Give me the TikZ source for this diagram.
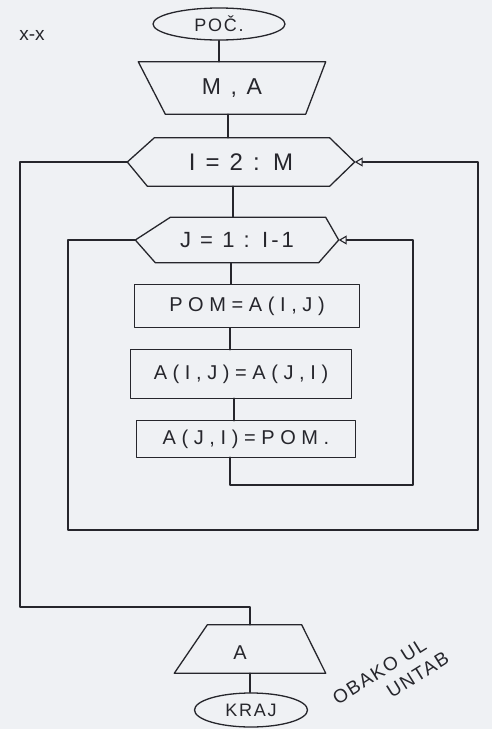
\documentclass[tikz,border=0pt]{standalone}
\usepackage{fontspec}
\setmainfont{Liberation Sans}
\usetikzlibrary{shapes.geometric,arrows.meta}
\definecolor{paper}{RGB}{239,241,244}
\definecolor{ink}{RGB}{38,38,44}
\tikzset{
  x=1pt,y=-1pt,
  ink/.style={draw=ink,line width=1.3pt,line join=round,line cap=round},
  flow/.style={ink},
  back/.style={ink,-{Triangle[open,length=8pt,width=9pt,line width=1.1pt]}},
  box/.style={inner sep=0pt,text=ink},
  lbl/.style={font=\fontsize{23}{23}\selectfont\addfontfeature{LetterSpace=14}},
  small/.style={font=\fontsize{20}{20}\selectfont\addfontfeature{LetterSpace=28}},
  term/.style={ellipse,ink,box,font=\fontsize{18}{18}\selectfont\addfontfeature{LetterSpace=10}},
}
\begin{document}
\begin{tikzpicture}
\fill[paper] (0,0) rectangle (492,729);
\useasboundingbox (0,0) rectangle (492,729);

% mark top-left
\node[text=ink,font=\fontsize{19}{19}\selectfont] (mark) at (32,35) {x-x};

% start
\node[term,minimum width=132,minimum height=32] (poc) at (219,24) {POČ.};

% input M,A
\node[box,lbl,minimum width=187,minimum height=52] (ma) at (232,88) {M , A};
\draw[ink] (ma.north west) -- (ma.north east) -- ([xshift=-20]ma.south east) -- ([xshift=27]ma.south west) -- cycle;

% loop I
\node[box,lbl,font=\fontsize{24}{24}\selectfont\addfontfeature{LetterSpace=14},minimum width=227,minimum height=48] (ihex) at (241,162) {I = 2 : M};
\draw[ink] (ihex.west) -- ([xshift=27]ihex.north west) -- ([xshift=-25]ihex.north east) -- (ihex.east) -- ([xshift=-25]ihex.south east) -- ([xshift=20]ihex.south west) -- cycle;

% loop J
\node[box,lbl,font=\fontsize{22}{22}\selectfont\addfontfeature{LetterSpace=14},minimum width=203,minimum height=45] (jhex) at (237,240) {J = 1 : I-1};
\draw[ink] (jhex.west) -- ([xshift=35]jhex.north west) -- ([xshift=-13]jhex.north east) -- (jhex.east) -- ([xshift=-20]jhex.south east) -- ([xshift=20]jhex.south west) -- cycle;

% body
\node[box,small,minimum width=225,minimum height=43] (b1) at (247,306) {POM=A(I,J)};
\draw[ink] (b1.south west) rectangle (b1.north east);
\node[box,small,minimum width=221,minimum height=48] (b2) at (241,374) {A(I,J)=A(J,I)};
\draw[ink] (b2.south west) rectangle (b2.north east);
\node[box,small,minimum width=218,minimum height=36] (b3) at (246,439) {A(J,I)=POM.};
\draw[ink] (b3.south west) rectangle (b3.north east);

% output A
\node[box,minimum width=151,minimum height=48] (outA) at (250,649) {};
\node[text=ink,font=\fontsize{20}{20}\selectfont,inner sep=0pt] (outAtxt) at (240,653) {A};
\draw[ink] ([xshift=33]outA.north west) -- ([xshift=-24]outA.north east) -- (outA.south east) -- (outA.south west) -- cycle;

% end
\node[term,minimum width=113,minimum height=34] (kraj) at (251,710) {KRAJ};

% coordinates for loop lines
\coordinate (jL) at (68,240);
\coordinate (jLb) at (68,530);
\coordinate (iRb) at (478,530);
\coordinate (iR) at (478,162);
\coordinate (jB) at (413,485);
\coordinate (jR) at (413,240);
\coordinate (iL) at (20,162);
\coordinate (iLb) at (20,607);
\coordinate (oT) at (250,607);

% straight connectors
\draw[flow] (poc.south) -- (poc.south |- ma.north);
\draw[flow] ([xshift=-4]ma.south) -- ([xshift=-4]ma.south |- ihex.north);
\draw[flow] ([xshift=-8]ihex.south) -- ([xshift=-8]ihex.south |- jhex.north);
\draw[flow] ([xshift=-6]jhex.south) -- ([xshift=-6]jhex.south |- b1.north);
\draw[flow] ([xshift=-17]b1.south) -- ([xshift=-17]b1.south |- b2.north);
\draw[flow] ([xshift=-7]b2.south) -- ([xshift=-7]b2.south |- b3.north);
\draw[flow] (outA.south) -- (outA.south |- kraj.north);

% inner loop return
\draw[back] ([xshift=-16]b3.south) -- ([xshift=-16]b3.south |- jB) -- (jB) -- (jR) -- (jhex.east);
% inner loop exit -> outer loop return
\draw[back] (jhex.west) -- (jL) -- (jLb) -- (iRb) -- (iR) -- (ihex.east);
% outer loop exit
\draw[flow] (ihex.west) -- (iL) -- (iLb) -- (oT) -- (outA.north);

% handwritten note
\node[text=ink,anchor=south west,rotate=32,align=left,inner sep=0pt,
      font=\fontsize{19}{23}\selectfont\addfontfeature{LetterSpace=8}] (note) at (350,725) {OBAKO UL\\\hspace{2.6em}UNTAB};
\end{tikzpicture}
\end{document}
